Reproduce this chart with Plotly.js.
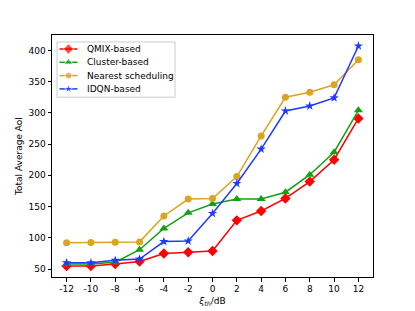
<!DOCTYPE html>
<html>
<head>
<meta charset="utf-8">
<script src="https://cdn.plot.ly/plotly-3.0.1.min.js"></script>
<style>html,body{margin:0;padding:0;background:#fff;}#chart{width:415px;height:311px;}</style>
</head>
<body>
<div id="chart"></div>
<script>
const xValues = [-12, -10, -8, -6, -4, -2, 0, 2, 4, 6, 8, 10, 12];
const qmix = [55, 55, 58, 62, 75, 77, 79, 128, 143, 163, 190, 225, 291];
const cluster = [58, 58, 61, 81, 115, 140, 154, 162, 162, 173, 201, 237, 304];
const nearest = [92, 92.5, 93, 93.5, 135, 162, 163, 198, 263, 325, 333, 345, 385];
const idqn = [60, 60, 64, 66, 94, 95, 139, 187, 242, 303, 311, 324, 407];
const seriesNames = ['QMIX-based', 'Cluster-based', 'Nearest scheduling', 'IDQN-based'];
const yTicks = [50, 100, 150, 200, 250, 300, 350, 400];

const styles = [
  {color: '#ff0000', symbol: 'diamond', size: 8},
  {color: '#14a014', symbol: 'triangle-up', size: 8},
  {color: '#daa520', symbol: 'circle', size: 7},
  {color: '#1f3aff', symbol: 'star', size: 7}
];
const seriesY = [qmix, cluster, nearest, idqn];
const fnt = {family: 'DejaVu Sans, sans-serif', size: 9, color: '#000'};

const W = 415, H = 311, M = {l: 52, r: 42, t: 35, b: 34};
const data = seriesY.map((y, i) => ({
  x: xValues, y: y, name: seriesNames[i], type: 'scatter', mode: 'lines+markers', showlegend: false,
  line: {color: styles[i].color, width: 1.5},
  marker: {color: styles[i].color, symbol: styles[i].symbol, size: styles[i].size}
}));

// Custom compact legend drawn on an overlay pixel-space axis (matplotlib-like spacing)
const legX0 = 57, legY0 = 42, legRow = 13.3, legW = 118;
const shapes = [{type: 'rect', xref: 'x2', yref: 'y2', x0: legX0, x1: legX0 + legW,
  y0: legY0, y1: legY0 + 4 * legRow + 2, line: {color: '#cccccc', width: 1}, fillcolor: '#ffffff', layer: 'below'}];
const annotations = [];
seriesNames.forEach((n, i) => {
  const yy = legY0 + 7 + i * legRow;
  data.push({x: [legX0 + 2.5, legX0 + 11.5, legX0 + 20.5], y: [yy, yy, yy], xaxis: 'x2', yaxis: 'y2',
    type: 'scatter', mode: 'lines+markers', showlegend: false, hoverinfo: 'skip',
    line: {color: styles[i].color, width: 1.5},
    marker: {color: styles[i].color, symbol: styles[i].symbol, size: [0, styles[i].size, 0]}});
  annotations.push({xref: 'x2', yref: 'y2', x: legX0 + 28, y: yy, text: n, showarrow: false,
    xanchor: 'left', yanchor: 'middle', font: fnt});
});

const layout = {
  width: W, height: H, margin: M,
  paper_bgcolor: '#fff', plot_bgcolor: '#fff', font: fnt, showlegend: false,
  xaxis: {range: [-13.2, 13.2], tickvals: xValues, ticktext: xValues.map(String),
    showgrid: false, zeroline: false, showline: true, mirror: true, linecolor: '#000', linewidth: 1,
    ticks: 'outside', ticklen: 3.5, tickcolor: '#000', tickfont: fnt,
    title: {text: '<i>ξ</i><sub><i>th</i></sub>/dB', font: fnt, standoff: 4}},
  yaxis: {range: [37.3, 424.6], tickvals: yTicks,
    showgrid: false, zeroline: false, showline: true, mirror: true, linecolor: '#000', linewidth: 1,
    ticks: 'outside', ticklen: 3.5, tickcolor: '#000', tickfont: fnt,
    title: {text: 'Total Average AoI', font: fnt, standoff: 4}},
  xaxis2: {overlaying: 'x', range: [M.l, W - M.r], visible: false, fixedrange: true},
  yaxis2: {overlaying: 'y', range: [H - M.b, M.t], visible: false, fixedrange: true},
  shapes: shapes, annotations: annotations
};
Plotly.newPlot('chart', data, layout, {displayModeBar: false, staticPlot: true});
</script>
</body>
</html>
